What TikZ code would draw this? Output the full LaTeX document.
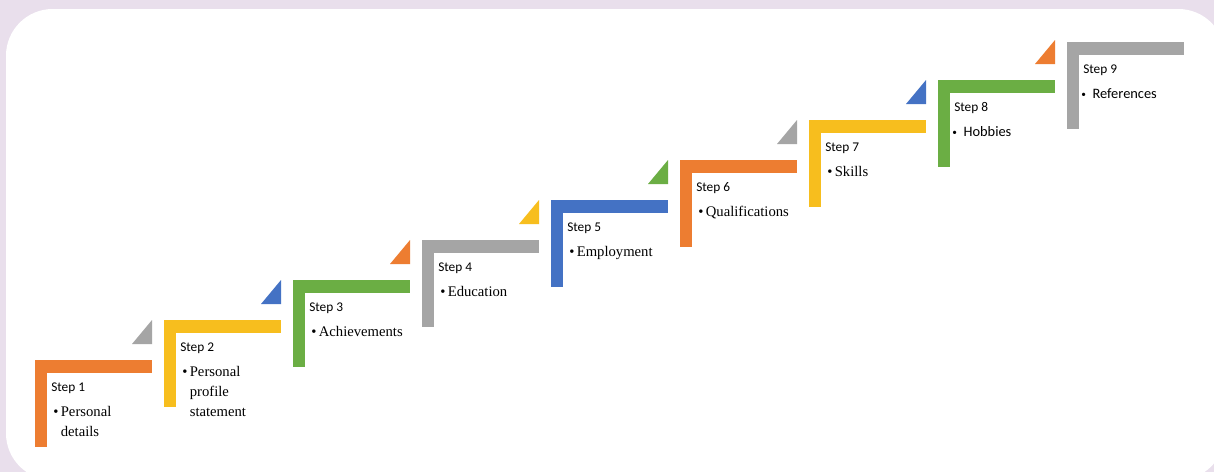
\documentclass[tikz,border=0pt]{standalone}
\usepackage{fontspec}
\setmainfont{Liberation Serif}
\newfontfamily\labfont{Carlito}
\definecolor{bglav}{HTML}{E9DFEC}
\definecolor{cOrange}{HTML}{ED7D31}
\definecolor{cYellow}{HTML}{F7BE1E}
\definecolor{cGreen}{HTML}{6BAE44}
\definecolor{cGray}{HTML}{A5A5A5}
\definecolor{cBlue}{HTML}{4472C4}
\tikzset{
  steplabel/.style={anchor=base west, inner sep=0pt, font=\labfont\fontsize{10}{12}\selectfont},
  itemserif/.style={anchor=north west, inner sep=0pt, align=left, font=\fontsize{11}{15}\selectfont},
  itemsans/.style={anchor=north west, inner sep=0pt, align=left, font=\labfont\fontsize{10.8}{15}\selectfont},
}
\newcommand{\smallbul}{\raisebox{0.5pt}{\fontsize{7}{8}\selectfont\textbullet}}
% #1 index, #2 left, #3 top, #4 bar colour
\newcommand{\drawstepbar}[4]{%
  \fill[#4] (#2,#3) rectangle ++(117,13);
  \fill[#4] (#2,#3) rectangle ++(12,87);
  \node[steplabel] (lab#1) at (#2+16,#3+31) {Step #1};
}
\newcommand{\drawsteptri}[4]{%
  \fill[#4] (#2+117,#3-40) -- (#2+117,#3-16) -- (#2+97,#3-16) -- cycle;
}
\begin{document}
\begin{tikzpicture}[x=0.75pt,y=-0.75pt]
\useasboundingbox (0,0) rectangle (1214,472);
\fill[bglav] (0,0) rectangle (1214,472);
\fill[white, rounded corners=35pt] (6,9) rectangle (1225,480);
% bars
\drawstepbar{1}{35}{360}{cOrange}
\drawstepbar{2}{164}{320}{cYellow}
\drawstepbar{3}{293}{280}{cGreen}
\drawstepbar{4}{422}{240}{cGray}
\drawstepbar{5}{551}{200}{cBlue}
\drawstepbar{6}{680}{160}{cOrange}
\drawstepbar{7}{809}{120}{cYellow}
\drawstepbar{8}{938}{80}{cGreen}
\drawstepbar{9}{1067}{42}{cGray}
% triangles
\drawsteptri{1}{35}{360}{cGray}
\drawsteptri{2}{164}{320}{cBlue}
\drawsteptri{3}{293}{280}{cOrange}
\drawsteptri{4}{422}{240}{cYellow}
\drawsteptri{5}{551}{200}{cGreen}
\drawsteptri{6}{680}{160}{cGray}
\drawsteptri{7}{809}{120}{cBlue}
\drawsteptri{8}{938}{80}{cOrange}
% items
\node[itemserif] (it1) at (35+18,360+46) {\textbullet\,Personal\\\phantom{\textbullet\,}details};
\node[itemserif] (it2) at (164+18,320+46) {\textbullet\,Personal\\\phantom{\textbullet\,}profile\\\phantom{\textbullet\,}statement};
\node[itemserif] (it3) at (293+18,280+46) {\textbullet\,Achievements};
\node[itemserif] (it4) at (422+18,240+46) {\textbullet\,Education};
\node[itemserif] (it5) at (551+18,200+46) {\textbullet\,Employment};
\node[itemserif] (it6) at (680+18,160+46) {\textbullet\,Qualifications};
\node[itemserif] (it7) at (809+18,120+46) {\textbullet\,Skills};
\node[itemsans] (it8) at (938+14,80+46) {\smallbul\hspace{5pt}Hobbies};
\node[itemsans] (it9) at (1067+14,42+46) {\smallbul\hspace{5pt}References};
\end{tikzpicture}
\end{document}
